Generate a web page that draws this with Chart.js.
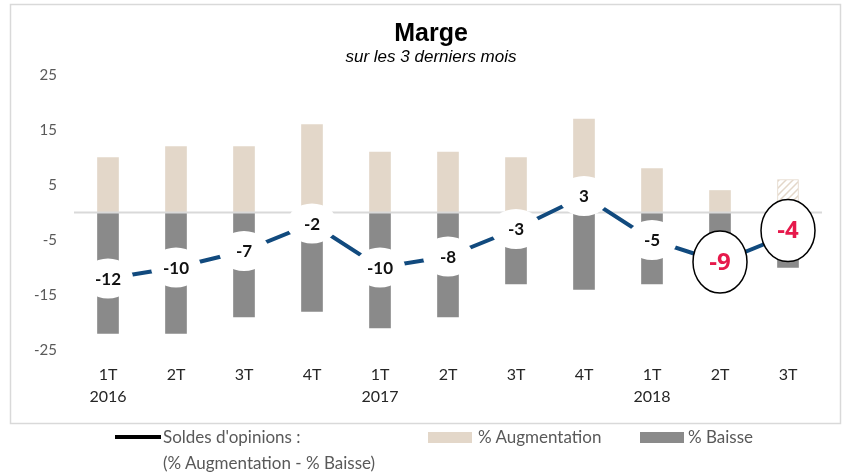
<html>
<head>
<script src="https://cdn.jsdelivr.net/npm/chart.js@4.4.1/dist/chart.umd.min.js"></script>
<style>
  body { margin: 0; background: #fff; }
  #wrap { position: relative; width: 848px; height: 475px; }
  .leg { position: absolute; font-family: Lato, "Open Sans", sans-serif; font-size: 17px; color: #595959; white-space: nowrap; }
  .sw { position: absolute; }
</style>
</head>
<body>
<div id="wrap">
  <canvas id="myChart" width="848" height="475"></canvas>
  <div class="sw" style="left:115px;top:435px;width:46px;height:4px;background:#000"></div>
  <div class="leg" style="left:163px;top:426px">Soldes d'opinions :</div>
  <div class="leg" style="left:163px;top:452px">(% Augmentation - % Baisse)</div>
  <div class="sw" style="left:428px;top:432px;width:44px;height:11px;background:#e3d7c9"></div>
  <div class="leg" style="left:478px;top:426px">% Augmentation</div>
  <div class="sw" style="left:640px;top:432px;width:44px;height:11px;background:#8a8a8a"></div>
  <div class="leg" style="left:688px;top:426px">% Baisse</div>
</div>

<script>
const quarters = [['1T','2016'],'2T','3T','4T',['1T','2017'],'2T','3T','4T',['1T','2018'],'2T','3T'];
const augmentation = [10, 12, 12, 16, 11, 11, 10, 17, 8, 4, 6];
const baisse = [-22, -22, -19, -18, -21, -19, -13, -14, -13, -13, -10];
const soldes = [-12, -10, -7, -2, -10, -8, -3, 3, -5, -9, -4];
const yTicks = [25, 15, 5, -5, -15, -25];
const titleText = 'Marge';
const subtitleText = 'sur les 3 derniers mois';

const beige = '#e3d7c9';
const grey = '#8a8a8a';

// hatched fill for the last (estimated) quarter
function hatch() {
    const c = document.createElement('canvas');
    c.width = 7; c.height = 7;
    const g = c.getContext('2d');
    g.fillStyle = '#fff';
    g.fillRect(0, 0, 7, 7);
    g.strokeStyle = beige;
    g.lineWidth = 1.5;
    g.beginPath();
    g.moveTo(-1, 8); g.lineTo(8, -1);
    g.moveTo(-1, 1); g.lineTo(1, -1);
    g.moveTo(6, 8); g.lineTo(8, 6);
    g.stroke();
    return g.createPattern(c, 'repeat');
}

const ctx = document.getElementById('myChart').getContext('2d');
const pat = hatch();
const augColors = augmentation.map((v, i) => i === augmentation.length - 1 ? pat : beige);

const boxPlugin = {
    id: 'box',
    beforeDraw(chart) {
        const c = chart.ctx;
        c.save();
        c.strokeStyle = '#d9d9d9';
        c.lineWidth = 1.5;
        c.strokeRect(10.5, 4.5, 830, 419);
        // titles
        c.fillStyle = '#000';
        c.textAlign = 'center';
        c.textBaseline = 'middle';
        c.font = 'bold 25px "Liberation Sans", Arial, sans-serif';
        c.fillText(titleText, 431, 34);
        c.font = 'italic 17px "Liberation Sans", Arial, sans-serif';
        c.fillText(subtitleText, 431, 57);
        c.restore();
    },
    afterDatasetDraw(chart, args) {
        if (args.index !== 0) return;
        const c = chart.ctx, a = chart.chartArea;
        const y0 = chart.scales.y.getPixelForValue(0);
        c.save();
        c.strokeStyle = '#d9d9d9';
        c.lineWidth = 2;
        c.beginPath();
        c.moveTo(a.left, y0);
        c.lineTo(a.right, y0);
        c.stroke();
        c.restore();
    }
};

const labelPlugin = {
    id: 'pointLabels',
    afterDatasetsDraw(chart) {
        const meta = chart.getDatasetMeta(2);
        const c = chart.ctx;
        c.save();
        c.textAlign = 'center';
        c.textBaseline = 'middle';
        meta.data.forEach((pt, i) => {
            const v = soldes[i];
            const big = i >= soldes.length - 2;
            c.beginPath();
            if (big) {
                const cy = i === soldes.length - 1 ? pt.y - 4 : pt.y;
                c.ellipse(pt.x, cy, 27, 31, 0, 0, Math.PI * 2);
                c.fillStyle = '#fff';
                c.fill();
                c.lineWidth = 1.5;
                c.strokeStyle = '#000';
                c.stroke();
                c.fillStyle = '#e6194b';
                c.font = 'bold 24px "Open Sans", Lato, sans-serif';
                c.fillText(String(v), pt.x, cy + 1);
            } else {
                c.ellipse(pt.x, pt.y, 25, 20, 0, 0, Math.PI * 2);
                c.fillStyle = '#fff';
                c.fill();
                c.fillStyle = '#111';
                c.font = 'bold 17px Lato, "Open Sans", sans-serif';
                c.fillText(String(v), pt.x, pt.y + 1);
            }
        });
        c.restore();
    }
};

new Chart(ctx, {
    type: 'bar',
    data: {
        labels: quarters,
        datasets: [
            { label: '% Augmentation', data: augmentation, backgroundColor: augColors,
              borderColor: beige, borderWidth: augmentation.map((v, i) => i === augmentation.length - 1 ? 1 : 0),
              barThickness: 21, order: 1 },
            { label: '% Baisse', data: baisse, backgroundColor: grey, barThickness: 21, order: 2 },
            { type: 'line', label: "Soldes d'opinions", data: soldes, borderColor: '#114a7e',
              borderWidth: 4, pointRadius: 0, tension: 0, order: 0 }
        ]
    },
    options: {
        responsive: false,
        animation: false,
        layout: { padding: { left: 0, right: 26, top: 75, bottom: 0 } },
        plugins: {
            legend: { display: false },
            tooltip: { enabled: false }
        },
        scales: {
            x: {
                stacked: true,
                grid: { display: false, drawTicks: false },
                border: { display: false },
                ticks: { color: '#262626', font: { family: 'Lato, "Open Sans", sans-serif', size: 16, lineHeight: 1.35 }, padding: 14, maxRotation: 0 },
                afterFit(s) { s.height = 125; }
            },
            y: {
                min: -25, max: 25,
                grid: { display: false, drawTicks: false },
                border: { display: false },
                afterBuildTicks(s) { s.ticks = yTicks.map(v => ({ value: v })); },
                ticks: { color: '#595959', font: { family: 'Lato, "Open Sans", sans-serif', size: 15 }, padding: 17 },
                afterFit(s) { s.width = 74; }
            }
        }
    },
    plugins: [boxPlugin, labelPlugin]
});
</script>
</body>
</html>
